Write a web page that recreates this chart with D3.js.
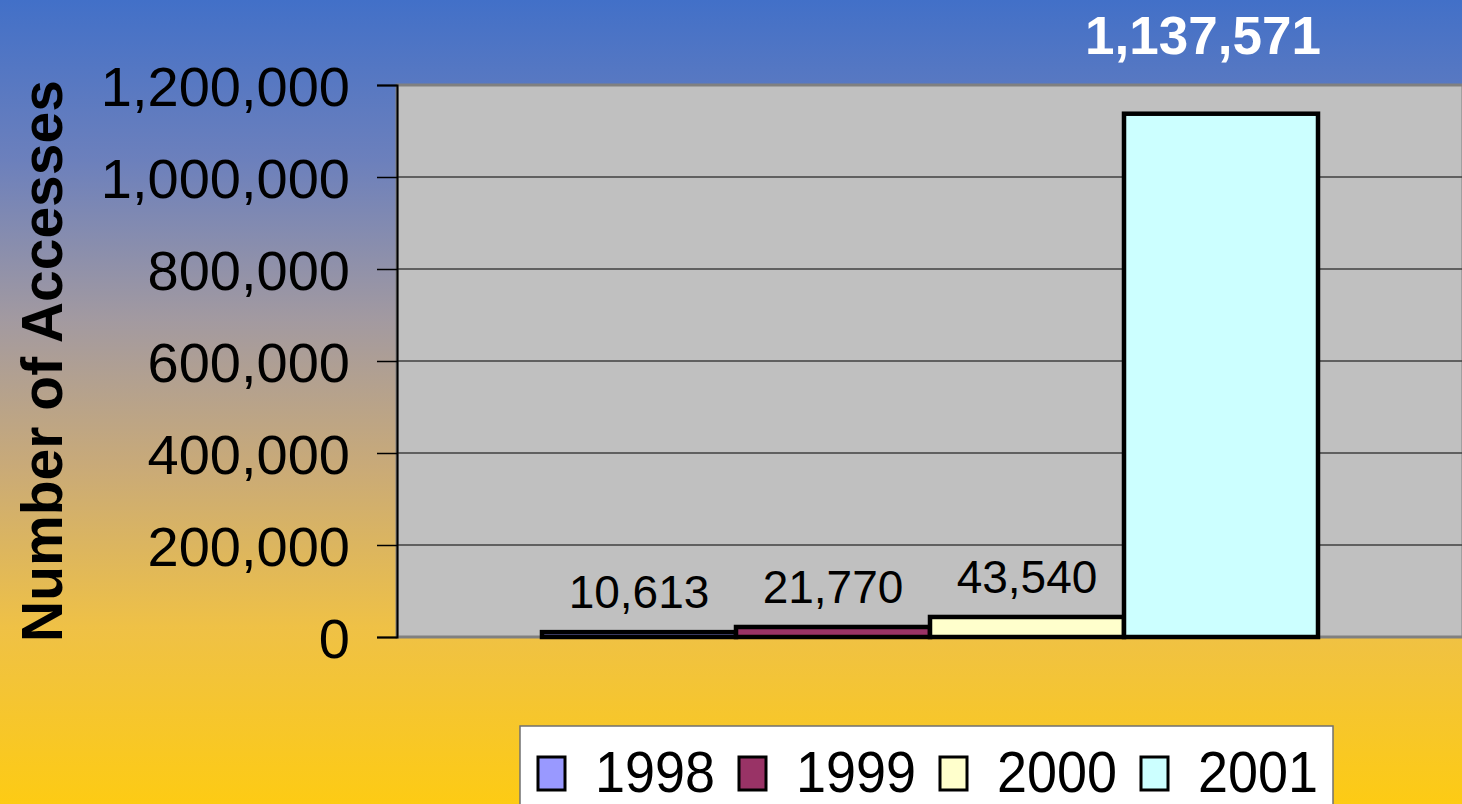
<!DOCTYPE html>
<html>
<head>
<meta charset="utf-8">
<script src="https://cdn.jsdelivr.net/npm/d3@7"></script>
<style>
  html, body { margin: 0; padding: 0; overflow: hidden; }
  text { font-family: "Liberation Sans", Arial, sans-serif; }
</style>
</head>
<body>
<div id="visual"></div>
<script>
// chart data
var years = ["1998", "1999", "2000", "2001"];
var accesses = [10613, 21770, 43540, 1137571];
var barColors = ["#9999ff", "#993366", "#ffffcc", "#ccffff"];
var yTicks = [0, 200000, 400000, 600000, 800000, 1000000, 1200000];

var width = 1462, height = 804;

var svg = d3.select("#visual").append("svg")
  .attr("width", width)
  .attr("height", height);

// background gradient
var grad = svg.append("defs").append("linearGradient")
  .attr("id", "bg")
  .attr("x1", 0).attr("y1", 0).attr("x2", 0).attr("y2", 1);
[[0, "#4270c8"], [0.2, "#6c80bc"], [0.4, "#a39aa0"], [0.58, "#c9aa78"],
 [0.78, "#efc146"], [1, "#fdcb14"]].forEach(function(s) {
  grad.append("stop").attr("offset", s[0]).attr("stop-color", s[1]);
});
svg.append("rect").attr("width", width).attr("height", height).attr("fill", "url(#bg)");

var plotLeft = 397, plotRight = 1463, plotTop = 85, plotBottom = 637;

var y = d3.scaleLinear().domain([0, 1200000]).range([plotBottom, plotTop]);
var x = d3.scaleBand().domain(years).range([542, 1318]).paddingInner(0);

// plot area
svg.append("rect")
  .attr("x", plotLeft).attr("y", plotTop)
  .attr("width", plotRight - plotLeft).attr("height", plotBottom - plotTop)
  .attr("fill", "#c0c0c0")
  .attr("stroke", "#808080")
  .attr("stroke-width", 3);

// gridlines
svg.append("g").selectAll("line")
  .data(yTicks.filter(function(d) { return d > 0 && d < 1200000; }))
  .enter().append("line")
  .attr("x1", plotLeft).attr("x2", plotRight)
  .attr("y1", function(d) { return y(d); })
  .attr("y2", function(d) { return y(d); })
  .attr("stroke", "#404040")
  .attr("stroke-width", 1.5);

// y axis
var yAxis = svg.append("g")
  .attr("transform", "translate(" + plotLeft + ",0)")
  .call(d3.axisLeft(y).tickValues(yTicks).tickFormat(d3.format(",")).tickSize(20).tickPadding(27));
yAxis.select(".domain").attr("stroke", "#000").attr("stroke-width", 2);
yAxis.selectAll(".tick line").attr("stroke", "#000").attr("stroke-width", 1.5);
yAxis.selectAll(".tick text")
  .attr("fill", "#000")
  .attr("dy", "0.36em")
  .style("font-size", "56px")
  .style("font-family", "'Liberation Sans', Arial, sans-serif");

// axis title
svg.append("text")
  .attr("transform", "translate(62," + ((plotTop + plotBottom) / 2) + ") rotate(-90)")
  .attr("text-anchor", "middle")
  .style("font-size", "57px")
  .style("font-weight", "bold")
  .attr("fill", "#000")
  .text("Number of Accesses");

// bars
var data = years.map(function(yr, i) { return { year: yr, value: accesses[i], color: barColors[i] }; });

svg.append("g").selectAll("rect")
  .data(data)
  .enter().append("rect")
  .attr("x", function(d) { return x(d.year); })
  .attr("width", x.bandwidth())
  .attr("y", function(d) { return y(d.value); })
  .attr("height", function(d) { return y(0) - y(d.value); })
  .attr("fill", function(d) { return d.color; })
  .attr("stroke", "#000")
  .attr("stroke-width", 4.5);

// value labels (the big one sits a bit left of its bar, as in the original)
svg.append("g").selectAll("text")
  .data(data)
  .enter().append("text")
  .attr("x", function(d, i) { return x(d.year) + x.bandwidth() / 2 + (i === 3 ? -18 : 0); })
  .attr("y", function(d, i) { return y(d.value) - (i === 3 ? 60 : 24); })
  .attr("text-anchor", "middle")
  .style("font-size", function(d, i) { return i === 3 ? "53px" : "46px"; })
  .style("font-weight", function(d, i) { return i === 3 ? "bold" : "normal"; })
  .attr("fill", function(d, i) { return i === 3 ? "#fff" : "#000"; })
  .text(function(d) { return d3.format(",")(d.value); });

// legend
var legend = svg.append("g");
legend.append("rect")
  .attr("x", 520).attr("y", 726)
  .attr("width", 813).attr("height", 100)
  .attr("fill", "#fff")
  .attr("stroke", "#707070")
  .attr("stroke-width", 1.5);

var item = legend.selectAll(".legendItem")
  .data(data)
  .enter().append("g")
  .attr("class", "legendItem")
  .attr("transform", function(d, i) { return "translate(" + (538 + i * 201) + ",0)"; });

item.append("rect")
  .attr("x", 0).attr("y", 757)
  .attr("width", 27).attr("height", 33)
  .attr("fill", function(d) { return d.color; })
  .attr("stroke", "#000")
  .attr("stroke-width", 3);

item.append("text")
  .attr("x", 57).attr("y", 792)
  .attr("textLength", 120)
  .attr("lengthAdjust", "spacingAndGlyphs")
  .style("font-size", "57px")
  .attr("fill", "#000")
  .text(function(d) { return d.year; });
</script>
</body>
</html>
